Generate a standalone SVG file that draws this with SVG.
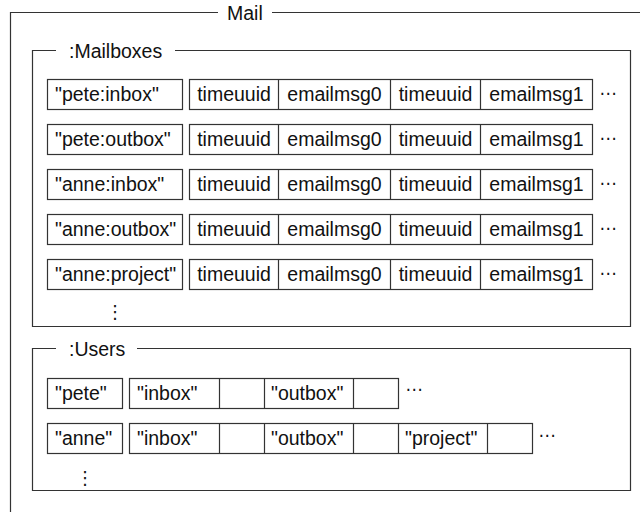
<svg xmlns="http://www.w3.org/2000/svg" width="640" height="512" viewBox="0 0 640 512">
<style>
.frame{fill:none;stroke:#333;stroke-width:1.2}
.cell{fill:#fff;stroke:#333;stroke-width:1.2}
.div{stroke:#333;stroke-width:1.2}
text{font-family:"Liberation Sans","DejaVu Sans",Arial,sans-serif;font-size:19.5px;fill:#111}
.c{text-anchor:middle}
.e{font-family:"DejaVu Sans",sans-serif;font-size:17px;text-anchor:middle}
.v{font-family:"DejaVu Sans",sans-serif;font-size:18px;text-anchor:middle}
</style>
<rect width="640" height="512" fill="#fff"/>
<g id="mail">
<path class="frame" d="M218,12.5 H10.5 V512 M272,12.5 H640"/>
<text x="227" y="19.5">Mail</text>
</g>
<g id="mailboxes">
<path class="frame" d="M56,50.5 H32.5 V326.5 H630.5 V50.5 H175"/>
<text x="69" y="57.5">:Mailboxes</text>
<text class="v" x="115" y="318">⋮</text>
</g>
<g id="mb-row1">
<rect class="cell" x="47.5" y="79.5" width="135" height="30"/>
<text x="55" y="101">"pete:inbox"</text>
<rect class="cell" x="189.5" y="79.5" width="403" height="30"/>
<path class="div" d="M278.5,79.5 V109.5 M390.5,79.5 V109.5 M480.5,79.5 V109.5"/>
<text class="c" x="234" y="101">timeuuid</text><text class="c" x="334.5" y="101">emailmsg0</text>
<text class="c" x="435.5" y="101">timeuuid</text><text class="c" x="536.5" y="101">emailmsg1</text>
<text class="e" x="608" y="99">⋯</text>
</g>
<g id="mb-row2">
<rect class="cell" x="47.5" y="124.5" width="135" height="30"/>
<text x="55" y="146">"pete:outbox"</text>
<rect class="cell" x="189.5" y="124.5" width="403" height="30"/>
<path class="div" d="M278.5,124.5 V154.5 M390.5,124.5 V154.5 M480.5,124.5 V154.5"/>
<text class="c" x="234" y="146">timeuuid</text><text class="c" x="334.5" y="146">emailmsg0</text>
<text class="c" x="435.5" y="146">timeuuid</text><text class="c" x="536.5" y="146">emailmsg1</text>
<text class="e" x="608" y="144">⋯</text>
</g>
<g id="mb-row3">
<rect class="cell" x="47.5" y="169.5" width="135" height="30"/>
<text x="55" y="191">"anne:inbox"</text>
<rect class="cell" x="189.5" y="169.5" width="403" height="30"/>
<path class="div" d="M278.5,169.5 V199.5 M390.5,169.5 V199.5 M480.5,169.5 V199.5"/>
<text class="c" x="234" y="191">timeuuid</text><text class="c" x="334.5" y="191">emailmsg0</text>
<text class="c" x="435.5" y="191">timeuuid</text><text class="c" x="536.5" y="191">emailmsg1</text>
<text class="e" x="608" y="189">⋯</text>
</g>
<g id="mb-row4">
<rect class="cell" x="47.5" y="214.5" width="135" height="30"/>
<text x="55" y="236">"anne:outbox"</text>
<rect class="cell" x="189.5" y="214.5" width="403" height="30"/>
<path class="div" d="M278.5,214.5 V244.5 M390.5,214.5 V244.5 M480.5,214.5 V244.5"/>
<text class="c" x="234" y="236">timeuuid</text><text class="c" x="334.5" y="236">emailmsg0</text>
<text class="c" x="435.5" y="236">timeuuid</text><text class="c" x="536.5" y="236">emailmsg1</text>
<text class="e" x="608" y="234">⋯</text>
</g>
<g id="mb-row5">
<rect class="cell" x="47.5" y="259.5" width="135" height="30"/>
<text x="55" y="281">"anne:project"</text>
<rect class="cell" x="189.5" y="259.5" width="403" height="30"/>
<path class="div" d="M278.5,259.5 V289.5 M390.5,259.5 V289.5 M480.5,259.5 V289.5"/>
<text class="c" x="234" y="281">timeuuid</text><text class="c" x="334.5" y="281">emailmsg0</text>
<text class="c" x="435.5" y="281">timeuuid</text><text class="c" x="536.5" y="281">emailmsg1</text>
<text class="e" x="608" y="279">⋯</text>
</g>
<g id="users">
<path class="frame" d="M56,348.5 H32.5 V490.5 H630.5 V348.5 H137"/>
<text x="69" y="355.5">:Users</text>
<text class="v" x="85" y="484">⋮</text>
</g>
<g id="us-row1">
<rect class="cell" x="47.5" y="378.5" width="75" height="30"/>
<text x="55" y="400">"pete"</text>
<rect class="cell" x="129.5" y="378.5" width="269" height="30"/>
<path class="div" d="M219.5,378.5 V408.5 M264.5,378.5 V408.5 M353.5,378.5 V408.5"/>
<text x="137" y="400">"inbox"</text>
<text x="271" y="400">"outbox"</text>
<text class="e" x="414" y="395">⋯</text>
</g>
<g id="us-row2">
<rect class="cell" x="47.5" y="423.5" width="75" height="30"/>
<text x="55" y="445">"anne"</text>
<rect class="cell" x="129.5" y="423.5" width="403" height="30"/>
<path class="div" d="M219.5,423.5 V453.5 M264.5,423.5 V453.5 M353.5,423.5 V453.5 M398.5,423.5 V453.5 M487.5,423.5 V453.5"/>
<text x="137" y="445">"inbox"</text>
<text x="271" y="445">"outbox"</text>
<text x="405" y="445">"project"</text>
<text class="e" x="547" y="441">⋯</text>
</g>
</svg>
